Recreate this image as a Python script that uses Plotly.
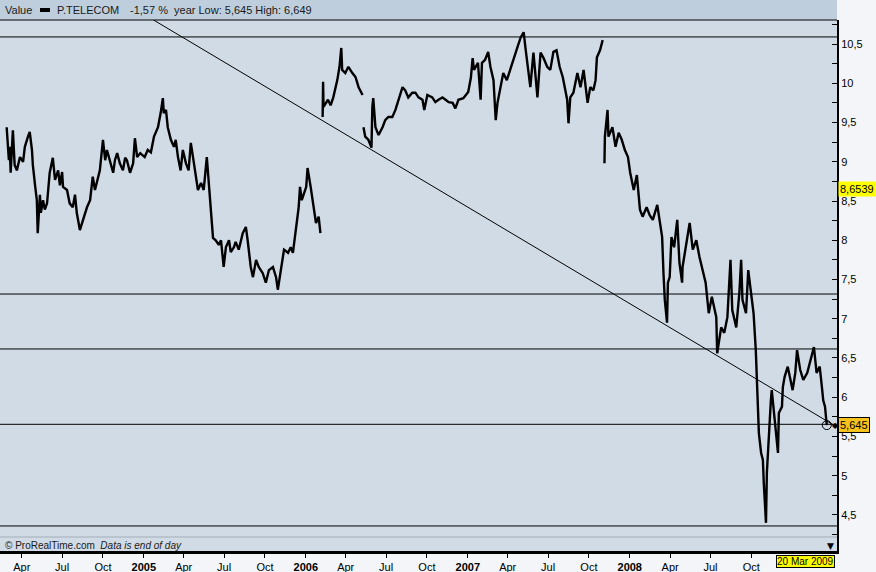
import plotly.graph_objects as go

# ---------------- data ----------------
d2004 = ["02-27", "03-03", "03-05", "03-07", "03-12", "03-16", "03-21", "03-28", "04-04", "04-08",
         "04-15", "04-19", "04-24", "04-26", "05-01", "05-05", "05-07", "05-12", "05-14", "05-19",
         "05-23", "05-28", "06-03", "06-10", "06-15", "06-22", "06-26", "07-01", "07-03", "07-12",
         "07-18", "07-25", "07-30", "08-03", "08-10", "08-17", "08-21", "08-26", "09-02", "09-08",
         "09-13", "09-18", "09-24", "10-01", "10-06", "10-10", "10-17", "10-24", "10-28", "11-02",
         "11-08", "11-15", "11-20", "11-24", "12-01", "12-08", "12-12", "12-17", "12-24"]
p2004 = [9.44, 9.02, 9.19, 8.86, 9.40, 8.96, 8.89, 9.06, 9.00, 9.19,
         9.32, 9.38, 9.15, 8.96, 8.70, 8.51, 8.09, 8.58, 8.35, 8.51,
         8.39, 8.47, 8.86, 9.05, 8.77, 8.89, 8.70, 8.87, 8.68, 8.64,
         8.47, 8.42, 8.58, 8.35, 8.13, 8.26, 8.36, 8.42, 8.51, 8.81,
         8.64, 8.77, 8.89, 9.28, 9.02, 9.15, 9.02, 8.86, 9.02, 9.11,
         8.98, 8.89, 9.05, 9.02, 8.86, 8.98, 9.30, 9.06, 9.11]

d2005 = ["01-03", "01-10", "01-17", "01-24", "02-02", "02-08", "02-13", "02-15", "02-20", "02-24",
         "03-03", "03-10", "03-14", "03-19", "03-25", "03-30", "04-06", "04-12", "04-17", "04-24",
         "04-28", "05-03", "05-10", "05-16", "05-23", "05-28", "06-03", "06-06", "06-12", "06-19",
         "06-24", "06-30", "07-05", "07-12", "07-16", "07-23", "07-27", "08-03", "08-12", "08-19",
         "08-23", "08-30", "09-04", "09-11", "09-17", "09-26", "10-03", "10-10", "10-19", "10-26",
         "10-30", "11-06", "11-13", "11-22", "11-28", "12-03", "12-10", "12-16", "12-19", "12-23"]
p2005 = [9.06, 9.15, 9.12, 9.32, 9.44, 9.62, 9.81, 9.62, 9.66, 9.44,
         9.28, 9.19, 9.28, 9.06, 8.89, 9.15, 8.98, 8.89, 9.24, 8.98,
         8.83, 8.64, 8.73, 8.64, 9.06, 8.68, 8.35, 8.03, 8.00, 7.94,
         8.00, 7.66, 7.91, 8.00, 7.85, 7.91, 7.98, 7.88, 8.09, 8.17,
         8.00, 7.66, 7.53, 7.75, 7.66, 7.58, 7.46, 7.62, 7.66, 7.53,
         7.37, 7.62, 7.88, 7.84, 7.91, 7.84, 8.17, 8.42, 8.68, 8.51]

d2006 = ["01-02", "01-05", "01-12", "01-19", "01-24", "01-30", "02-03", "02-06", "02-08", "02-09",
         "02-10", "02-20", "02-26", "03-04", "03-13", "03-18", "03-22", "03-24", "03-31", "04-07",
         "04-16", "04-23", "04-30", "05-09", "05-10", "05-11", "05-15", "05-22", "05-29", "05-31",
         "06-02", "06-07", "06-14", "06-23", "06-29", "07-06", "07-15", "07-22", "07-29", "08-07",
         "08-13", "08-20", "08-29", "09-05", "09-12", "09-21", "09-25", "10-02", "10-13", "10-20",
         "10-27", "11-05", "11-12", "11-19", "11-28", "12-04", "12-11", "12-22"]
p2006 = [8.68, 8.92, 8.68, 8.42, 8.22, 8.30, 8.09, None, 9.57, 10.02,
         9.70, 9.79, 9.72, 9.82, 10.04, 10.21, 10.45, 10.17, 10.13, 10.21,
         10.13, 10.08, 9.95, 9.85, None, 9.44, 9.32, 9.28, 9.18, 9.70,
         9.81, 9.44, 9.34, 9.44, 9.53, 9.57, 9.57, 9.66, 9.79, 9.95,
         9.91, 9.82, 9.88, 9.88, 9.82, 9.79, 9.66, 9.85, 9.82, 9.76,
         9.79, 9.82, 9.79, 9.76, 9.75, 9.68, 9.79, 9.81]

d2007 = ["01-02", "01-08", "01-12", "01-15", "01-24", "01-30", "02-02", "02-09", "02-16", "02-21",
         "02-28", "03-05", "03-09", "03-15", "03-22", "03-30", "04-06", "04-13", "04-23", "04-30",
         "05-07", "05-11", "05-18", "05-22", "05-29", "06-07", "06-14", "06-20", "06-29", "07-06",
         "07-13", "07-20", "07-27", "08-03", "08-13", "08-16", "08-20", "08-27", "09-05", "09-12",
         "09-19", "09-28", "10-04", "10-11", "10-16", "10-19", "10-26", "11-01", "11-02", "11-05",
         "11-06", "11-12", "11-14", "11-23", "11-30", "12-07", "12-14", "12-21", "12-28"]
p2007 = [9.89, 10.07, 10.32, 10.17, 10.26, 9.79, 10.26, 10.30, 10.40, 10.21,
         10.04, 9.53, 9.75, 9.91, 10.13, 10.04, 10.17, 10.30, 10.46, 10.58,
         10.65, 10.45, 10.08, 9.95, 10.39, 9.82, 10.39, 10.33, 10.21, 10.17,
         10.40, 10.42, 10.21, 10.08, 9.79, 9.49, 9.82, 9.88, 10.13, 9.95,
         10.17, 9.75, 9.95, 9.91, 10.04, 10.33, 10.42, 10.55, None, 8.98,
         9.32, 9.66, 9.32, 9.44, 9.19, 9.37, 9.28, 9.15, 9.06]

d2008 = ["01-02", "01-10", "01-17", "01-24", "01-30", "02-08", "02-15", "02-22", "03-03", "03-10",
         "03-14", "03-17", "03-20", "03-25", "03-27", "03-31", "04-04", "04-10", "04-17", "04-22",
         "04-28", "04-29", "05-08", "05-15", "05-22", "05-30", "06-06", "06-12", "06-20", "06-27",
         "07-04", "07-14", "07-16", "07-25", "08-01", "08-08", "08-15", "08-19", "08-28", "09-04",
         "09-08", "09-11", "09-19", "09-24", "10-01", "10-06", "10-11", "10-14", "10-18", "10-23",
         "10-27", "10-29", "11-03", "11-05", "11-10", "11-14", "11-16", "11-21", "11-25", "11-30",
         "12-02", "12-09", "12-11", "12-15", "12-22"]
p2008 = [8.86, 8.64, 8.83, 8.39, 8.30, 8.42, 8.32, 8.26, 8.45, 8.22,
         8.04, 7.58, 7.24, 6.95, 7.46, 7.53, 8.04, 7.91, 8.26, 7.71,
         7.46, 7.66, 7.97, 8.22, 7.88, 8.00, 7.79, 7.66, 7.46, 7.07,
         7.28, 7.02, 6.56, 6.89, 6.82, 7.02, 7.75, 7.11, 6.89, 7.33,
         7.75, 7.24, 7.07, 7.62, 7.28, 7.07, 6.60, 6.18, 5.54, 5.29,
         5.20, 4.91, 4.40, 5.04, 5.62, 5.96, 6.09, 5.80, 5.54, 5.29,
         5.80, 5.88, 6.13, 6.26, 6.39]

d2009 = ["01-02", "01-08", "01-12", "01-19", "01-26", "02-04", "02-10", "02-19", "02-25", "03-04",
         "03-09", "03-12", "03-16", "03-17", "03-19", "03-20"]
p2009 = [6.09, 6.31, 6.60, 6.35, 6.22, 6.31, 6.44, 6.64, 6.31, 6.39,
         6.13, 5.96, 5.88, 5.75, 5.70, 5.645]

# horizontal support / resistance lines and trend line
h_levels = [10.59, 7.315, 6.615, 5.655, 4.36]
trend_dates = ["2005-01-23", "2009-04-10"]
trend_values = [10.806, 5.627]

# axis ticks
x_tick_vals = ["2004-04-01", "2004-07-01", "2004-10-01", "2005-01-01", "2005-04-01", "2005-07-01",
               "2005-10-01", "2006-01-01", "2006-04-01", "2006-07-01", "2006-10-01", "2007-01-01",
               "2007-04-01", "2007-07-01", "2007-10-01", "2008-01-01", "2008-04-01", "2008-07-01",
               "2008-10-01"]
x_tick_text = ["Apr", "Jul", "Oct", "<b>2005</b>", "Apr", "Jul", "Oct", "<b>2006</b>", "Apr", "Jul",
               "Oct", "<b>2007</b>", "Apr", "Jul", "Oct", "<b>2008</b>", "Apr", "Jul", "Oct"]
y_tick_vals = [4.5, 5, 5.5, 6, 6.5, 7, 7.5, 8, 8.5, 9, 9.5, 10, 10.5]
y_tick_text = ["4,5", "5", "5,5", "6", "6,5", "7", "7,5", "8", "8,5", "9", "9,5", "10", "10,5"]
y_minor_vals = [4.25, 4.75, 5.25, 5.75, 6.25, 6.75, 7.25, 7.75, 8.25, 8.75, 9.25, 9.75, 10.25, 10.75]

# ---------------- assemble ----------------
dates, prices = [], []
for yr, ds, ps in [(2004, d2004, p2004), (2005, d2005, p2005), (2006, d2006, p2006),
                   (2007, d2007, p2007), (2008, d2008, p2008), (2009, d2009, p2009)]:
    assert len(ds) == len(ps), (yr, len(ds), len(ps))
    dates += [f"{yr}-{d}" for d in ds]
    prices += ps

FONT = "Liberation Sans, Arial, sans-serif"
W, H = 876, 572
ML, MR, MT, MB = 0, 39, 20, 21
PH = H - MT - MB
PW = W - ML - MR

fig = go.Figure()
fig.add_trace(go.Scatter(x=dates, y=prices, mode="lines", connectgaps=False,
                         line=dict(color="black", width=2.4), hoverinfo="skip"))
fig.add_trace(go.Scatter(x=trend_dates, y=trend_values, mode="lines",
                         line=dict(color="black", width=1), hoverinfo="skip"))
fig.add_trace(go.Scatter(x=[dates[-1]], y=[prices[-1]], mode="markers",
                         marker=dict(symbol="circle-open", size=9, color="black",
                                     line=dict(width=1, color="black")), hoverinfo="skip"))

shapes = []
for lv in h_levels:
    shapes.append(dict(type="line", xref="paper", x0=0, x1=1, yref="y", y0=lv, y1=lv,
                       line=dict(color="black", width=1)))
# header bar
shapes.append(dict(type="rect", xref="paper", x0=0, x1=1, yref="paper", y0=1, y1=1 + MT / PH,
                   fillcolor="#bfcedc", line=dict(width=0), layer="below"))
shapes.append(dict(type="line", xref="paper", x0=0, x1=1, yref="paper", y0=1, y1=1,
                   line=dict(color="black", width=1)))
# legend swatch in header
shapes.append(dict(type="rect", xref="paper", x0=40 / PW, x1=50 / PW, yref="paper",
                   y0=1 + 8 / PH, y1=1 + 12 / PH, fillcolor="black", line=dict(width=0)))
# thin grey separator near the bottom
shapes.append(dict(type="line", xref="paper", x0=0, x1=1, yref="paper", y0=14 / PH, y1=14 / PH,
                   line=dict(color="#a3adb8", width=1)))

annotations = [
    dict(text="Value", xref="paper", x=3 / PW, xanchor="left", yref="paper", y=1 + 10 / PH,
         yanchor="middle", showarrow=False, font=dict(family=FONT, size=11, color="#1a1a1a")),
    dict(text="P.TELECOM", xref="paper", x=55 / PW, xanchor="left", yref="paper", y=1 + 10 / PH,
         yanchor="middle", showarrow=False, font=dict(family=FONT, size=11, color="#1a1a1a")),
    dict(text="-1,57 %  year Low: 5,645 High: 6,649", xref="paper", x=128 / PW, xanchor="left",
         yref="paper", y=1 + 10 / PH, yanchor="middle", showarrow=False,
         font=dict(family=FONT, size=11, color="#1a1a1a")),
    dict(text="© ProRealTime.com  <i>Data is end of day</i>", xref="paper", x=3 / PW,
         xanchor="left", yref="paper", y=6 / PH, yanchor="middle", showarrow=False,
         font=dict(family=FONT, size=10, color="#1a1a1a")),
    dict(text="8,6539", xref="paper", x=1, xanchor="left", xshift=1, yref="y", y=8.6539,
         yanchor="middle", showarrow=False, bgcolor="#ffff00", borderpad=1,
         font=dict(family=FONT, size=11, color="black")),
    dict(text="5,645", xref="paper", x=1, xanchor="left", xshift=1, yref="y", y=5.645,
         yanchor="middle", showarrow=False, bgcolor="#f6c21c", bordercolor="black",
         borderwidth=1, borderpad=1, font=dict(family=FONT, size=11, color="black")),
    dict(text="◆", xref="paper", x=1, xanchor="center", xshift=-2, yref="y", y=5.645,
         yanchor="middle", showarrow=False, font=dict(family="DejaVu Sans", size=8, color="black")),
    dict(text="20 Mar 2009", xref="paper", x=1, xanchor="right", xshift=-2, yref="paper",
         y=-10 / PH, yanchor="middle", showarrow=False, bgcolor="#ffff00", bordercolor="black",
         borderwidth=1, borderpad=0, font=dict(family=FONT, size=10, color="black")),
    dict(text="▼", xref="paper", x=1, xanchor="center", xshift=-7, yref="paper", y=5 / PH,
         yanchor="middle", showarrow=False, font=dict(family="DejaVu Sans", size=9, color="black")),
]

fig.update_layout(
    width=W, height=H,
    margin=dict(l=ML, r=MR, t=MT, b=MB, pad=0, autoexpand=False),
    paper_bgcolor="#f3f5f8",
    plot_bgcolor="#d0dbe6",
    showlegend=False,
    shapes=shapes,
    annotations=annotations,
    font=dict(family=FONT, size=11, color="black"),
    xaxis=dict(type="date", range=["2004-02-12", "2009-04-12"], tickmode="array",
               tickvals=x_tick_vals, ticktext=x_tick_text, ticks="outside", ticklen=4,
               tickcolor="black", showgrid=False, zeroline=False, showline=True,
               linecolor="black", linewidth=3, automargin=False,
               tickfont=dict(family=FONT, size=11, color="black"), fixedrange=True),
    yaxis=dict(side="right", range=[4.041, 10.806], tickmode="array", tickvals=y_tick_vals,
               ticktext=y_tick_text, ticks="inside", ticklen=5, tickcolor="black",
               minor=dict(tickmode="array", tickvals=y_minor_vals, ticks="inside", ticklen=5,
                          tickcolor="black"),
               showgrid=False, zeroline=False, showline=True, linecolor="black", linewidth=2,
               automargin=False, tickfont=dict(family=FONT, size=11, color="black"),
               fixedrange=True),
)

fig.write_html(
    "out.html",
    config={"displayModeBar": False},
    post_script="document.body.style.margin='0';document.body.style.padding='0';"
                "document.body.style.overflow='hidden';",
)
